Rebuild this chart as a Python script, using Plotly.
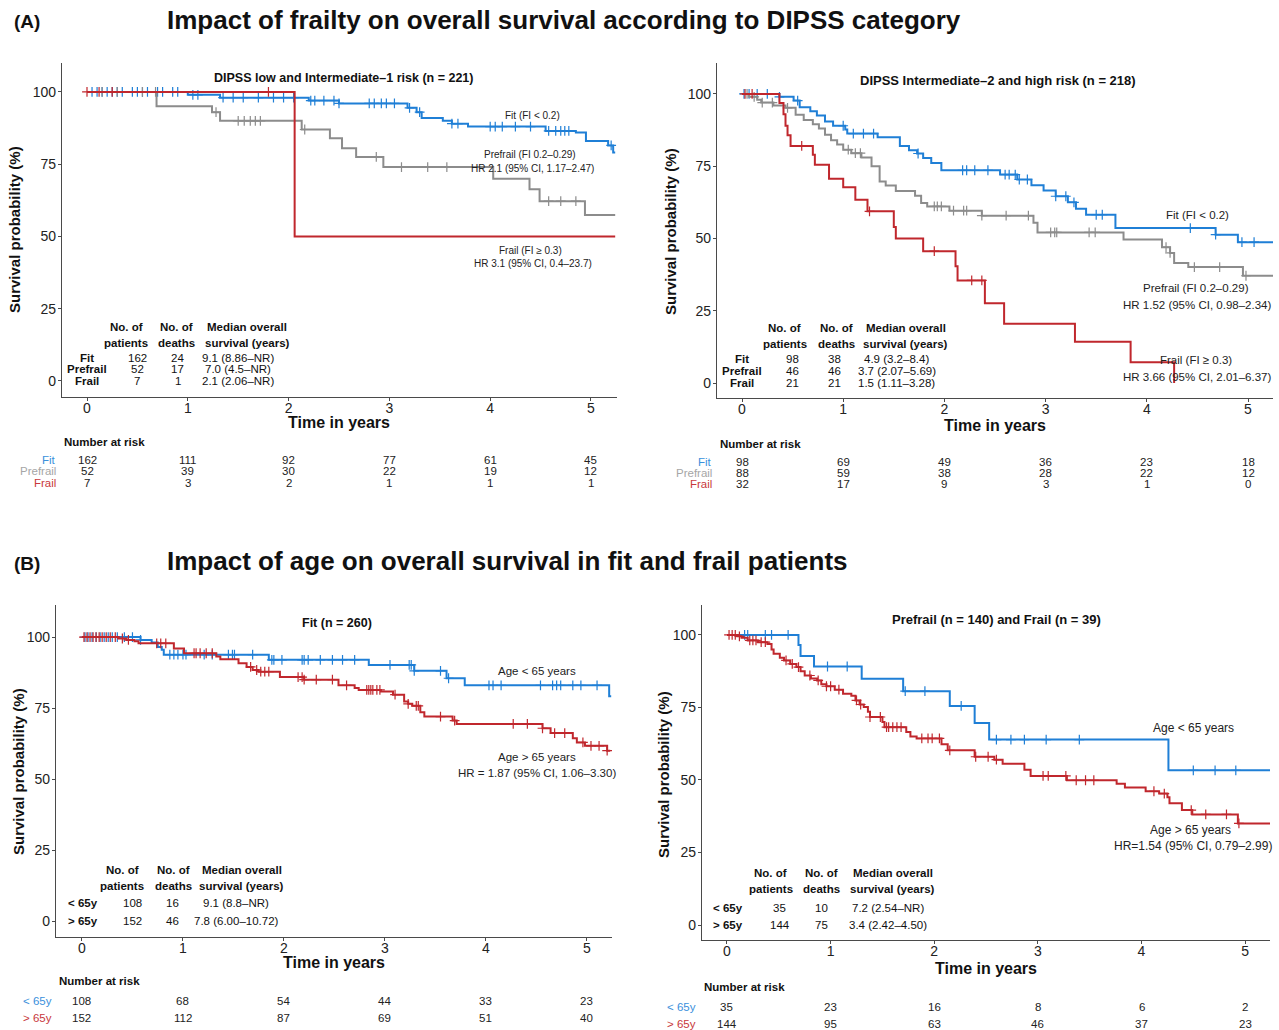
import plotly.graph_objects as go

# ======================= DATA =======================
years = [0, 1, 2, 3, 4, 5]
yticks = [0, 25, 50, 75, 100]

# ---- Panel A1: DIPSS low and Intermediate-1 ----
a1_fit_t = [0, 1.0, 1.32, 2.2, 2.5, 3.18, 3.27, 3.32, 3.53, 3.62, 3.78, 4.55, 4.85, 4.95, 5.17, 5.22, 5.24]
a1_fit_s = [100, 99, 98, 97, 96, 94.5, 93, 91, 90, 89, 88, 86.5, 86, 83, 81.5, 79, 79]
a1_fit_c = [0.05, 0.1, 0.15, 0.2, 0.25, 0.3, 0.35, 0.45, 0.5, 0.55, 0.6, 0.7, 0.75, 0.85, 0.9,
            1.05, 1.1, 1.35, 1.45, 1.55, 1.7, 1.85, 1.95, 2.05, 2.22, 2.26, 2.35, 2.45, 2.5,
            2.8, 2.85, 2.92, 2.97, 3.05, 3.2, 3.3, 3.62, 3.68, 4.0, 4.05, 4.12, 4.25, 4.4,
            4.58, 4.65, 4.7, 4.74, 4.78, 5.2]
a1_pre_t = [0, 0.69, 1.24, 1.32, 2.13, 2.41, 2.53, 2.67, 2.94, 4.03, 4.39, 4.49, 4.94, 5.24]
a1_pre_s = [100, 95, 93, 90, 87, 84, 80.5, 77.5, 74, 70, 66.3, 62.2, 57.4, 57.4]
a1_pre_c = [0.15, 0.3, 0.55, 0.68, 1.28, 1.5, 1.56, 1.62, 1.67, 1.72, 2.16, 2.87, 3.12,
            3.38, 3.57, 4.58, 4.7, 4.85]
a1_fra_t = [0, 2.06, 5.24]
a1_fra_s = [100, 50, 50]
a1_fra_c = [0.0, 0.12, 0.25, 1.8]

# ---- Panel A2: DIPSS Intermediate-2 and high ----
a2_fit_t = [0, 0.37, 0.51, 0.57, 0.675, 0.74, 0.82, 0.9, 1.02, 1.04, 1.34, 1.56, 1.65, 1.73,
            1.79, 1.87, 1.97, 2.55, 2.72, 2.86, 2.98, 3.1, 3.22, 3.3, 3.4, 3.69, 4.68, 4.9, 5.25]
a2_fit_s = [100, 99, 97.7, 95.4, 94, 92.5, 90.5, 89, 87.7, 86.3, 85, 82, 80.5, 79.4, 77.8,
            76.1, 73.6, 72.1, 70.4, 68.4, 66.6, 64.6, 62.5, 60.3, 58.2, 53.6, 51.3, 48.7, 48.7]
a2_fit_c = [0.02, 0.07, 0.15, 0.25, 0.37, 0.55, 1.0, 1.1, 1.2, 1.3, 1.74, 2.18, 2.22, 2.3,
            2.43, 2.6, 2.64, 2.7, 2.74, 2.82, 3.1, 3.2, 3.28, 3.5, 3.56, 4.43, 4.68, 4.94, 5.06]
a2_pre_t = [0, 0.07, 0.15, 0.19, 0.31, 0.43, 0.53, 0.61, 0.7, 0.76, 0.82, 0.88, 0.94, 1.0,
            1.08, 1.18, 1.28, 1.36, 1.42, 1.52, 1.71, 1.77, 1.83, 2.05, 2.37, 2.88, 2.92,
            3.77, 4.15, 4.23, 4.27, 4.41, 4.95, 5.25]
a2_pre_s = [100, 99, 98, 97, 96, 95.2, 92.8, 91, 89.5, 88, 85.9, 84, 82.5, 80.7, 79.5, 78,
            75, 69.7, 68.3, 66.4, 64.8, 62.3, 61.1, 59.6, 57.9, 55.4, 52.1, 49.6, 47, 45,
            41.5, 40.1, 37.1, 37.1]
a2_pre_c = [0.05, 0.12, 0.2, 0.3, 0.45, 1.05, 1.12, 1.17, 1.9, 1.93, 1.97, 2.09, 2.19, 2.22,
            2.37, 2.61, 2.83, 3.05, 3.09, 3.11, 3.43, 3.49, 4.19, 4.23, 4.47, 4.72, 4.98]
a2_fra_t = [0, 0.37, 0.41, 0.43, 0.45, 0.48, 0.7, 0.72, 0.86, 1.0, 1.12, 1.24, 1.5, 1.52,
            1.79, 2.11, 2.13, 2.4, 2.59, 3.29, 3.84, 4.27]
a2_fra_s = [100, 96.9, 93, 89, 85.7, 82, 79, 75.5, 70.7, 67.7, 63.4, 59.4, 54, 50, 45.6,
            40.4, 35.5, 27.6, 20.5, 14.3, 7.2, 0]
a2_fra_c = [0.03, 0.1, 0.59, 1.26, 1.9, 2.27, 2.37]

# ---- Panel B1: Fit ----
b1_yng_t = [0, 0.58, 0.69, 0.75, 0.79, 0.81, 1.85, 2.84, 3.29, 3.61, 3.79, 5.22, 5.24]
b1_yng_s = [100, 99, 98.1, 96.5, 95.5, 93.8, 92, 90.2, 88.1, 85.5, 83, 79.2, 79.2]
b1_yng_c = [0.03, 0.06, 0.1, 0.14, 0.18, 0.22, 0.26, 0.3, 0.35, 0.42, 0.5, 0.58, 0.87, 0.91,
            0.95, 1.0, 1.03, 1.21, 1.29, 1.45, 1.49, 1.51, 1.69, 1.88, 1.9, 1.98, 2.18, 2.2,
            2.24, 2.36, 2.48, 2.58, 2.7, 3.05, 3.24, 3.26, 3.29, 3.55, 3.63, 4.03, 4.07,
            4.15, 4.54, 4.66, 4.7, 4.74, 4.86, 4.94, 5.1]
b1_old_t = [0, 0.36, 0.44, 0.52, 0.56, 0.91, 1.01, 1.33, 1.37, 1.55, 1.63, 1.69, 1.75, 1.96,
            2.2, 2.54, 2.7, 2.74, 2.96, 3.08, 3.19, 3.23, 3.27, 3.35, 3.39, 3.67, 3.71, 4.56,
            4.64, 4.86, 4.9, 4.98, 5.2, 5.23]
b1_old_s = [100, 99.5, 99, 98.5, 97.8, 96, 94.3, 93.2, 92.2, 90.8, 89.5, 88.4, 87.8, 85.9,
            85, 83, 82.1, 81.4, 80.8, 79.7, 77.3, 76.5, 75.8, 73.5, 72, 70.6, 69.4, 67.9,
            66.2, 64.4, 62.9, 61.7, 60, 60]
b1_old_c = [0.02, 0.05, 0.08, 0.11, 0.14, 0.17, 0.2, 0.24, 0.28, 0.33, 0.4, 0.46, 0.74, 0.78,
            0.83, 1.11, 1.13, 1.17, 1.23, 1.29, 1.67, 1.73, 1.77, 1.81, 1.85, 2.14, 2.18, 2.2,
            2.32, 2.48, 2.62, 2.82, 2.84, 2.86, 2.88, 2.92, 2.95, 3.1, 3.23, 3.31, 3.33, 3.55,
            3.69, 4.27, 4.41, 4.56, 4.68, 4.78, 4.96, 5.04, 5.12, 5.2]

# ---- Panel B2: Prefrail and Frail ----
b2_yng_t = [0, 0.69, 0.71, 0.84, 1.3, 1.7, 2.15, 2.39, 2.53, 4.26, 5.24]
b2_yng_s = [100, 96.5, 92.7, 89.1, 84.9, 80.6, 75.5, 69.6, 63.9, 53.3, 53.3]
b2_yng_c = [0.17, 0.2, 0.37, 0.43, 0.59, 0.97, 1.16, 1.72, 1.91, 2.26, 2.6, 2.74, 2.87,
            3.08, 3.4, 4.5, 4.71, 4.91]
b2_old_t = [0, 0.1, 0.14, 0.2, 0.3, 0.39, 0.43, 0.45, 0.51, 0.55, 0.61, 0.67, 0.71, 0.75,
            0.81, 0.87, 0.91, 0.96, 1.04, 1.12, 1.2, 1.24, 1.28, 1.32, 1.36, 1.38, 1.5, 1.52,
            1.73, 1.77, 1.83, 2.07, 2.13, 2.39, 2.58, 2.66, 2.87, 2.93, 3.28, 3.76, 3.84,
            4.04, 4.17, 4.25, 4.27, 4.39, 4.49, 4.93, 5.24]
b2_old_s = [100, 99.5, 99, 98.1, 97.5, 96.9, 95, 93.5, 92.1, 91.2, 90, 88.9, 87.5, 86, 85,
            84.3, 83, 82.3, 81.1, 79.7, 79, 77.4, 76, 75.1, 73.5, 71.7, 70, 68.2, 66.5, 65,
            64.3, 62.3, 60.2, 58, 57, 55.6, 53.5, 51.4, 49.9, 48.7, 47.4, 46.1, 45.3, 44,
            42, 39.6, 38.1, 35, 35]
b2_old_c = [0.02, 0.05, 0.08, 0.12, 0.22, 0.25, 0.28, 0.33, 0.37, 0.57, 0.63, 0.69, 0.8,
            0.88, 0.96, 1.0, 1.08, 1.25, 1.29, 1.38, 1.48, 1.54, 1.56, 1.6, 1.64, 1.68, 1.88,
            1.94, 1.98, 2.05, 2.15, 2.4, 2.52, 2.6, 3.05, 3.1, 3.27, 3.37, 3.46, 3.54, 4.12,
            4.22, 4.48, 4.62, 4.82, 4.94]

# ---- summary tables ----
frailty_groups = ["Fit", "Prefrail", "Frail"]
age_groups = ["< 65y", "> 65y"]
a1_patients = [162, 52, 7]
a1_deaths = [24, 17, 1]
a1_median = ["9.1 (8.86–NR)", "7.0 (4.5–NR)", "2.1 (2.06–NR)"]
a2_patients = [98, 46, 21]
a2_deaths = [38, 46, 21]
a2_median = ["4.9 (3.2–8.4)", "3.7 (2.07–5.69)", "1.5 (1.11–3.28)"]
b1_patients = [108, 152]
b1_deaths = [16, 46]
b1_median = ["9.1 (8.8–NR)", "7.8 (6.00–10.72)"]
b2_patients = [35, 144]
b2_deaths = [10, 75]
b2_median = ["7.2 (2.54–NR)", "3.4 (2.42–4.50)"]

# ---- numbers at risk ----
a1_risk = [[162, 111, 92, 77, 61, 45], [52, 39, 30, 22, 19, 12], [7, 3, 2, 1, 1, 1]]
a2_risk = [[98, 69, 49, 36, 23, 18], [88, 59, 38, 28, 22, 12], [32, 17, 9, 3, 1, 0]]
b1_risk = [[108, 68, 54, 44, 33, 23], [152, 112, 87, 69, 51, 40]]
b2_risk = [[35, 23, 16, 8, 6, 2], [144, 95, 63, 46, 37, 23]]

# ======================= STYLE / LAYOUT =======================
W, H = 1279, 1030
BLUE = "#1f7fd6"
GRAY = "#8c8c8c"
RED = "#c0272d"
LBL_BLUE = "#3b90dc"
LBL_GRAY = "#a6a6a6"
LBL_RED = "#c8383c"
NARROW = "Liberation Sans Narrow, Arial Narrow, Liberation Sans, Arial, sans-serif"
SANS = "Liberation Sans, Arial, Helvetica, sans-serif"
AX = "#4a4a4a"


def px(x):
    return x / W


def py(y):
    return 1 - y / H


def surv_at(t, s, c):
    v = s[0]
    for ti, si in zip(t, s):
        if ti <= c:
            v = si
    return v


def ann(text, x, y, xref, yref, font, xanchor="center", **kw):
    return dict(text=text, x=x, y=y, xref=xref, yref=yref, showarrow=False, font=font,
                xanchor=xanchor, yanchor="middle", **kw)


fig = go.Figure()
annotations = []

panels = [
    dict(box=(62, 63, 617, 397), xr=(-0.248, 5.258), yr=(-5.54, 110.0),
         curves=[(a1_fit_t, a1_fit_s, a1_fit_c, BLUE), (a1_pre_t, a1_pre_s, a1_pre_c, GRAY),
                 (a1_fra_t, a1_fra_s, a1_fra_c, RED)],
         subtitle=("DIPSS low and Intermediate–1 risk (n = 221)", 2.54, 104.7, 12.5),
         labels=[("Fit (FI < 0.2)", 4.42, 91.8), ("Prefrail (FI 0.2–0.29)", 4.39, 78.2),
                 ("HR 2.1 (95% CI, 1.17–2.47)", 4.42, 73.4), ("Frail (FI ≥ 0.3)", 4.4, 45.3),
                 ("HR 3.1 (95% CI, 0.4–23.7)", 4.42, 40.5)], lsize=10,
         table=(frailty_groups, a1_patients, a1_deaths, a1_median),
         tcols=(0.0, 0.5, 0.9, 1.5), thead=(0.39, 0.89, 1.59), thy=(18.8, 13.0), trows=(8.1, 4.0, 0.0),
         risk=a1_risk, rlabels=[("Fit", LBL_BLUE), ("Prefrail", LBL_GRAY), ("Frail", LBL_RED)],
         rk_title=(62, 442), rk_rows=(460, 471, 483), rk_lx=58, xtitle=(339, 423),
         ytitle=(14, 230)),
    dict(box=(717, 63, 1273, 398), xr=(-0.247, 5.247), yr=(-5.19, 110.7),
         curves=[(a2_fit_t, a2_fit_s, a2_fit_c, BLUE), (a2_pre_t, a2_pre_s, a2_pre_c, GRAY),
                 (a2_fra_t, a2_fra_s, a2_fra_c, RED)],
         subtitle=("DIPSS Intermediate–2 and high risk (n = 218)", 2.53, 104.8, 13),
         labels=[("Fit (FI < 0.2)", 4.5, 58.1), ("Prefrail (FI 0.2–0.29)", 4.49, 32.9),
                 ("HR 1.52 (95% CI, 0.98–2.34)", 4.5, 27.0), ("Frail (FI ≥ 0.3)", 4.49, 8.0),
                 ("HR 3.66 (95% CI, 2.01–6.37)", 4.5, 2.1)], lsize=11.5,
         table=(frailty_groups, a2_patients, a2_deaths, a2_median),
         tcols=(0.0, 0.5, 0.91, 1.53), thead=(0.42, 0.93, 1.62), thy=(19.0, 13.5), trows=(8.3, 4.2, 0.0),
         risk=a2_risk, rlabels=[("Fit", LBL_BLUE), ("Prefrail", LBL_GRAY), ("Frail", LBL_RED)],
         rk_title=(718, 444), rk_rows=(462, 473, 484), rk_lx=714, xtitle=(995, 425),
         ytitle=(670, 232)),
    dict(box=(56, 605, 612, 937), xr=(-0.257, 5.248), yr=(-5.63, 111.3),
         curves=[(b1_yng_t, b1_yng_s, b1_yng_c, BLUE), (b1_old_t, b1_old_s, b1_old_c, RED)],
         subtitle=("Fit (n = 260)", 2.53, 104.9, 12.5),
         labels=[("Age < 65 years", 4.51, 88.0), ("Age > 65 years", 4.51, 57.7),
                 ("HR = 1.87 (95% CI, 1.06–3.30)", 4.51, 52.1)], lsize=11.5,
         table=(age_groups, b1_patients, b1_deaths, b1_median),
         tcols=(0.01, 0.5, 0.9, 1.53), thead=(0.4, 0.91, 1.58), thy=(18.0, 12.3), trows=(6.3, 0.0),
         risk=b1_risk, rlabels=[("< 65y", LBL_BLUE), ("> 65y", LBL_RED)],
         rk_title=(57, 981), rk_rows=(1001, 1018), rk_lx=54, xtitle=(334, 962),
         ytitle=(18, 772)),
    dict(box=(702, 605, 1270, 940), xr=(-0.241, 5.24), yr=(-5.17, 110.3),
         curves=[(b2_yng_t, b2_yng_s, b2_yng_c, BLUE), (b2_old_t, b2_old_s, b2_old_c, RED)],
         subtitle=("Prefrail (n = 140) and Frail (n = 39)", 2.6, 105.2, 13),
         labels=[("Age < 65 years", 4.5, 67.9), ("Age > 65 years", 4.47, 32.8),
                 ("HR=1.54 (95% CI, 0.79–2.99)", 4.5, 27.2)], lsize=12,
         table=(age_groups, b2_patients, b2_deaths, b2_median),
         tcols=(0.01, 0.51, 0.91, 1.55), thead=(0.42, 0.91, 1.6), thy=(17.9, 12.4), trows=(5.9, 0.0),
         risk=b2_risk, rlabels=[("< 65y", LBL_BLUE), ("> 65y", LBL_RED)],
         rk_title=(702, 987), rk_rows=(1007, 1024), rk_lx=698, xtitle=(986, 968),
         ytitle=(663, 775)),
]

for i, p in enumerate(panels, start=1):
    sfx = "" if i == 1 else str(i)
    xa, ya = "x" + sfx, "y" + sfx
    x0, y0, x1, y1 = p["box"]
    axis_common = dict(showline=True, linecolor=AX, linewidth=1.2, ticks="outside", ticklen=3,
                       tickcolor=AX, tickwidth=1, showgrid=False, zeroline=False,
                       tickfont=dict(family=SANS, size=14, color="#222"))
    fig.update_layout(**{
        "xaxis" + sfx: dict(axis_common, domain=[px(x0), px(x1)], range=list(p["xr"]),
                            tickvals=years, anchor=ya, ticklabelstandoff=-5),
        "yaxis" + sfx: dict(axis_common, domain=[py(y1), py(y0)], range=list(p["yr"]),
                            tickvals=yticks, anchor=xa, ticklabelstandoff=-1),
    })
    for t, s, c, col in p["curves"]:
        fig.add_trace(go.Scatter(x=t, y=s, mode="lines", xaxis=xa, yaxis=ya,
                                 line=dict(color=col, width=2, shape="hv"),
                                 showlegend=False, hoverinfo="skip"))
        fig.add_trace(go.Scatter(x=c, y=[surv_at(t, s, ci) for ci in c], mode="markers",
                                 xaxis=xa, yaxis=ya,
                                 marker=dict(symbol="cross-thin", size=7,
                                             line=dict(color=col, width=1.2)),
                                 showlegend=False, hoverinfo="skip"))
    # subtitle
    txt, sx, sy, ss = p["subtitle"]
    annotations.append(ann("<b>" + txt + "</b>", sx, sy, xa, ya,
                           dict(family=NARROW, size=ss, color="#111")))
    for txt, lx, ly in p["labels"]:
        annotations.append(ann(txt, lx, ly, xa, ya,
                               dict(family=NARROW, size=p["lsize"], color="#222")))
    # summary table
    groups, pats, deaths, meds = p["table"]
    cl, cp, cd, cm = p["tcols"]
    hp, hd, hm = p["thead"]
    h1, h2 = p["thy"]
    tf = dict(family=NARROW, size=11.5, color="#111")
    for hx, l1, l2 in [(hp, "No. of", "patients"), (hd, "No. of", "deaths"),
                       (hm, "Median overall", "survival (years)")]:
        annotations.append(ann("<b>" + l1 + "</b>", hx, h1, xa, ya, tf))
        annotations.append(ann("<b>" + l2 + "</b>", hx, h2, xa, ya, tf))
    for g, n, d, m, ry in zip(groups, pats, deaths, meds, p["trows"]):
        for val, cx, bold in [(g, cl, True), (n, cp, False), (d, cd, False), (m, cm, False)]:
            t_ = "<b>%s</b>" % val if bold else str(val)
            annotations.append(ann(t_, cx, ry, xa, ya, tf))
    # axis titles
    tx, ty = p["xtitle"]
    annotations.append(ann("<b>Time in years</b>", px(tx), py(ty), "paper", "paper",
                           dict(family=SANS, size=16, color="#111")))
    yx, yy = p["ytitle"]
    annotations.append(ann("<b>Survival probability (%)</b>", px(yx), py(yy), "paper", "paper",
                           dict(family=SANS, size=15, color="#111"), textangle=-90))
    # number at risk
    rx, ry = p["rk_title"]
    annotations.append(ann("<b>Number at risk</b>", px(rx), py(ry), "paper", "paper",
                           dict(family=NARROW, size=11.5, color="#111"), xanchor="left"))
    for (lab, lcol), row, rowy in zip(p["rlabels"], p["risk"], p["rk_rows"]):
        annotations.append(ann(lab, px(p["rk_lx"]), py(rowy), "paper", "paper",
                               dict(family=NARROW, size=11.5, color=lcol), xanchor="right"))
        for yr_, v in zip(years, row):
            annotations.append(ann(str(v), yr_, py(rowy), xa, "paper",
                                   dict(family=NARROW, size=11.5, color="#222")))

# main titles
for lab, title, ty in [("(A)", "Impact of frailty on overall survival according to DIPSS category", 20),
                       ("(B)", "Impact of age on overall survival in fit and frail patients", 561)]:
    annotations.append(ann("<b>" + lab + "</b>", px(12), py(ty + 2), "paper", "paper",
                           dict(family=SANS, size=19, color="#111"), xanchor="left"))
    annotations.append(ann("<b>" + title + "</b>", px(165), py(ty), "paper", "paper",
                           dict(family=SANS, size=26, color="#111"), xanchor="left"))

fig.update_layout(width=W, height=H, margin=dict(l=0, r=0, t=0, b=0),
                  paper_bgcolor="white", plot_bgcolor="white", annotations=annotations,
                  showlegend=False)
fig.write_html("out.html")
